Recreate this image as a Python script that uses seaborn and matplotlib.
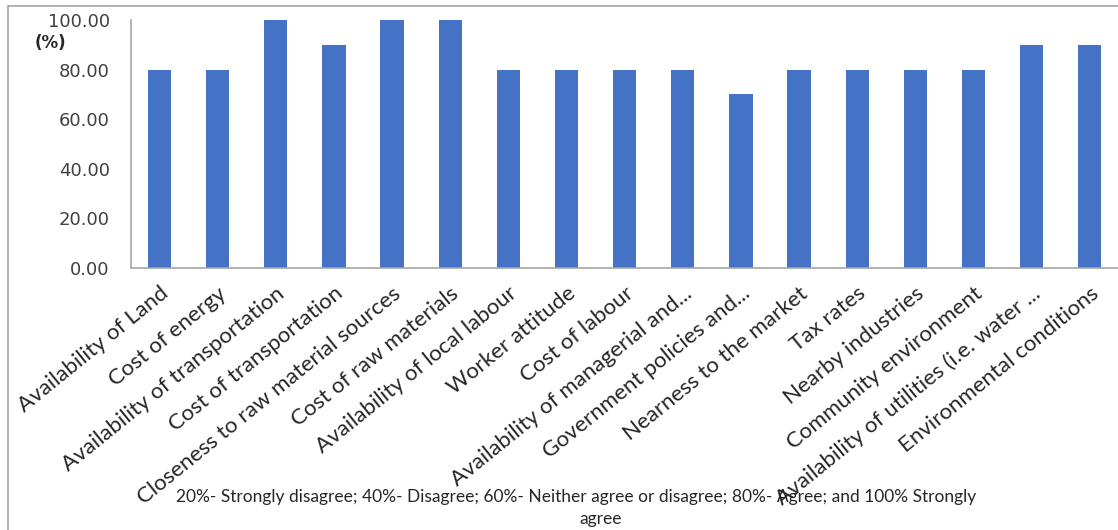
import matplotlib
matplotlib.use("Agg")
import matplotlib.pyplot as plt
from matplotlib.lines import Line2D
import seaborn as sns
import pandas as pd

factors = [
    "Availability of Land",
    "Cost of energy",
    "Availability of transportation",
    "Cost of transportation",
    "Closeness to raw material sources",
    "Cost of raw materials",
    "Availability of local labour",
    "Worker attitude",
    "Cost of labour",
    "Availability of managerial and...",
    "Government policies and...",
    "Nearness to the market",
    "Tax rates",
    "Nearby industries",
    "Community environment",
    "Availability of utilities (i.e. water ...",
    "Environmental conditions",
]
scores = [80, 80, 100, 90, 100, 100, 80, 80, 80, 80, 70, 80, 80, 80, 80, 90, 90]
y_ticks = [0, 20, 40, 60, 80, 100]
note_line1 = "20%- Strongly disagree; 40%- Disagree; 60%- Neither agree or disagree; 80%- Agree; and 100% Strongly"
note_line2 = "agree"

df = pd.DataFrame({"factor": factors, "score": scores})

sns.set_theme(style="white")
plt.rcParams["font.family"] = ["DejaVu Sans"]

fig = plt.figure(figsize=(11.18, 5.30), dpi=100)
ax = fig.add_axes([130.5 / 1118, 262 / 530, (1118.8 - 130.5) / 1118, 248 / 530])

sns.barplot(data=df, x="factor", y="score", color="#4472C4", saturation=1,
            width=0.4, edgecolor="none", ax=ax)

ax.set_ylim(0, 100)
ax.set_yticks(y_ticks)
ax.set_yticklabels([f"{v:.2f}" for v in y_ticks], fontsize=13, color="#404040")
ax.set_xlabel("")
ax.set_ylabel("")
ax.tick_params(axis="both", length=0)
ax.tick_params(axis="y", pad=15)
ax.set_xticks(range(len(factors)))
ax.set_xticklabels(factors, rotation=39, ha="right", va="top",
                   rotation_mode="anchor", fontsize=16, family=["Lato", "DejaVu Sans"],
                   color="#262626")
ax.tick_params(axis="x", pad=11)

for side in ["top", "right"]:
    ax.spines[side].set_visible(False)
for side in ["left", "bottom"]:
    ax.spines[side].set_color("#a6a6a6")
    ax.spines[side].set_linewidth(1.2)

fig.text(50 / 1118, 1 - 43 / 530, "(%)", fontsize=12, fontweight="bold",
         ha="center", va="center", color="#262626")

fig.text(576 / 1118, 1 - 497 / 530, note_line1, fontsize=12.5,
         family=["Lato", "DejaVu Sans"], ha="center", va="center", color="#262626")
fig.text(601 / 1118, 1 - 519 / 530, note_line2, fontsize=12.5,
         family=["Lato", "DejaVu Sans"], ha="center", va="center", color="#262626")

# outer chart border
fig.add_artist(Line2D([8 / 1118, 8 / 1118], [0, 1 - 6 / 530],
                      transform=fig.transFigure, color="#a6a6a6", lw=1.2))
fig.add_artist(Line2D([8 / 1118, 1], [1 - 6 / 530, 1 - 6 / 530],
                      transform=fig.transFigure, color="#a6a6a6", lw=1.2))

fig.savefig("out.png", dpi=100, facecolor="white")
